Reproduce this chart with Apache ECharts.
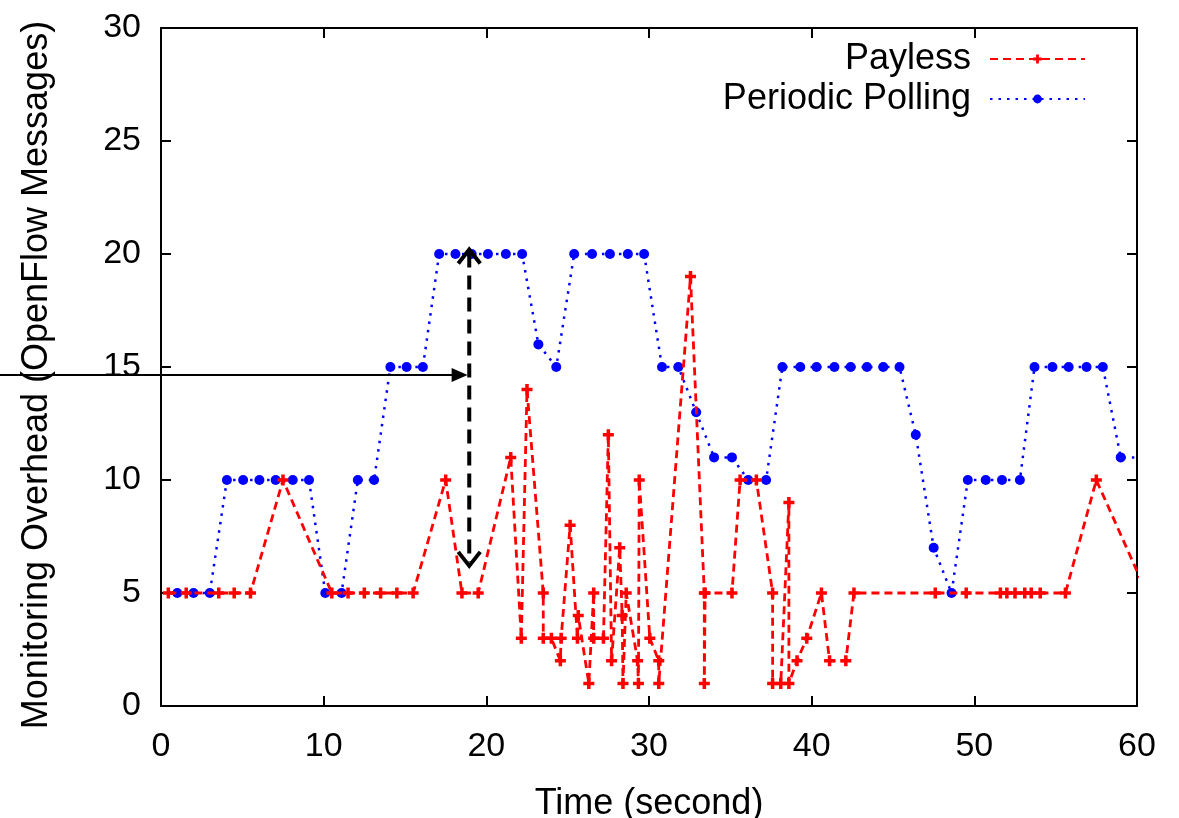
<!DOCTYPE html>
<html>
<head>
<meta charset="utf-8">
<script src="https://cdn.jsdelivr.net/npm/echarts@6/dist/echarts.min.js"></script>
<style>
html,body{margin:0;padding:0;background:#fff;}
#c{width:1179px;height:818px;}
</style>
</head>
<body>
<div id="c"></div>
<script>
// ---- data ----
const xTicks = [0, 10, 20, 30, 40, 50, 60];
const yTicks = [0, 5, 10, 15, 20, 25, 30];
const seriesNames = ['Payless', 'Periodic Polling'];

const paylessT = [0.45, 1.55, 3.55, 4.5, 5.5, 7.5, 10.5, 11.5, 12.5, 13.5, 14.5, 15.5, 17.5, 18.5, 19.5,
  21.5, 22.15, 22.5, 23.5, 23.5, 24.0, 24.55, 24.6, 25.15, 25.6, 25.65, 26.3, 26.6, 26.6, 27.2,
  27.5, 27.7, 28.2, 28.35, 28.4, 28.6, 29.3, 29.35, 29.4, 30.05, 30.6, 30.6, 32.55, 33.4, 33.4,
  33.45, 35.1, 35.6, 36.6, 37.6, 37.6, 38.1, 38.6, 38.6, 39.1, 39.7, 40.6, 41.1, 42.1, 42.6,
  47.6, 49.5, 51.6, 52.0, 52.5, 53.1, 53.5, 54.05, 55.6, 57.5, 60.6];
const paylessV = [5, 5, 5, 5, 5, 10, 5, 5, 5, 5, 5, 5, 10, 5, 5,
  11, 3, 14, 5, 3, 3, 2, 3, 8, 3, 4, 1, 5, 3, 3,
  12, 2, 7, 4, 1, 5, 2, 1, 10, 3, 2, 1, 19, 5, 1,
  5, 5, 10, 10, 5, 1, 1, 9, 1, 2, 3, 5, 2, 2, 5,
  5, 5, 5, 5, 5, 5, 5, 5, 5, 10, 5];

const pollingT = [1.0, 2.0, 3.0, 4.05, 5.05, 6.05, 7.05, 8.1, 9.1, 10.1, 11.1, 12.1, 13.1, 14.1, 15.1, 16.1,
  17.1, 18.1, 19.1, 20.1, 21.2, 22.2, 23.2, 24.3, 25.4, 26.5, 27.6, 28.7, 29.7, 30.8, 31.8, 32.9,
  34.0, 35.1, 36.1, 37.2, 38.2, 39.3, 40.3, 41.4, 42.4, 43.4, 44.4, 45.4, 46.4, 47.5, 48.6,
  49.6, 50.7, 51.7, 52.8, 53.7, 54.8, 55.8, 56.9, 57.9, 59.0, 60.05];
const pollingV = [5, 5, 5, 10, 10, 10, 10, 10, 10, 5, 5, 10, 10, 15, 15, 15,
  20, 20, 20, 20, 20, 20, 16, 15, 20, 20, 20, 20, 20, 15, 15, 13,
  11, 11, 10, 10, 15, 15, 15, 15, 15, 15, 15, 15, 12, 7, 5,
  10, 10, 10, 10, 15, 15, 15, 15, 15, 11, 11];

// annotation arrows (data space)
const hArrow = { y: 14.65, tipT: 18.85 };
const vArrow = { t: 18.95, top: 20.2, bottom: 6.2 };

// ---- chart ----
const FONT = 'Liberation Sans';
const plus = 'path://M-1.6,-5H1.6V-1.6H5V1.6H1.6V5H-1.6V1.6H-5V-1.6H-1.6Z';
const zip = (a, b) => a.map((v, i) => [v, b[i]]);

const chart = echarts.init(document.getElementById('c'), null, { renderer: 'canvas' });

function axisCommon() {
  return {
    min: 0,
    axisLine: { show: true, onZero: false, lineStyle: { color: '#000', width: 2 } },
    axisTick: { show: true, inside: true, length: 10, lineStyle: { color: '#000', width: 2 } },
    splitLine: { show: false }
  };
}

chart.setOption({
  animation: false,
  backgroundColor: '#fff',
  textStyle: { fontFamily: FONT },
  grid: { left: 161, right: 42, top: 28, bottom: 112, containLabel: false, outerBoundsMode: 'none' },
  legend: {
    data: seriesNames,
    orient: 'vertical',
    align: 'right',
    right: 88,
    top: 36,
    itemWidth: 95,
    itemHeight: 11,
    itemGap: 4,
    textStyle: { fontFamily: FONT, fontSize: 36, color: '#000', padding: [0, 14, 0, 0] }
  },
  xAxis: [
    Object.assign(axisCommon(), {
      type: 'value', max: 60, interval: 10, position: 'bottom',
      name: 'Time (second)', nameLocation: 'middle', nameGap: 80,
      nameTextStyle: { fontFamily: FONT, fontSize: 36, color: '#000' },
      axisLabel: { fontFamily: FONT, fontSize: 34, color: '#000', margin: 24,
        formatter: v => xTicks.includes(v) ? String(v) : '' }
    }),
    Object.assign(axisCommon(), {
      type: 'value', max: 60, interval: 10, position: 'top', axisLabel: { show: false }
    })
  ],
  yAxis: [
    Object.assign(axisCommon(), {
      type: 'value', max: 30, interval: 5, position: 'left',
      name: 'Monitoring Overhead (OpenFlow Messages)', nameLocation: 'middle', nameGap: 106,
      nameTextStyle: { fontFamily: FONT, fontSize: 36, color: '#000', padding: [0, 16, 0, 0] },
      axisLabel: { fontFamily: FONT, fontSize: 34, color: '#000', margin: 20,
        formatter: v => yTicks.includes(v) ? String(v) : '' }
    }),
    Object.assign(axisCommon(), {
      type: 'value', max: 30, interval: 5, position: 'right', axisLabel: { show: false }
    })
  ],
  series: [
    {
      name: seriesNames[0], type: 'line', data: zip(paylessT, paylessV),
      symbol: plus, symbolSize: 11, showAllSymbol: true, clip: true,
      itemStyle: { color: '#ff0000' },
      lineStyle: { color: '#ff0000', width: 2.8, type: [8, 5] },
      z: 3
    },
    {
      name: seriesNames[1], type: 'line', data: zip(pollingT, pollingV),
      symbol: 'circle', symbolSize: 10, showAllSymbol: true, clip: true,
      itemStyle: { color: '#0000ff' },
      lineStyle: { color: '#0000ff', width: 2.5, type: [2.5, 6] },
      z: 2
    }
  ]
});

function drawArrows() {
  const hy = chart.convertToPixel({ xAxisIndex: 0, yAxisIndex: 0 }, [0, hArrow.y]);
  const htip = chart.convertToPixel({ xAxisIndex: 0, yAxisIndex: 0 }, [hArrow.tipT, hArrow.y]);
  const vtop = chart.convertToPixel({ xAxisIndex: 0, yAxisIndex: 0 }, [vArrow.t, vArrow.top]);
  const vbot = chart.convertToPixel({ xAxisIndex: 0, yAxisIndex: 0 }, [vArrow.t, vArrow.bottom]);
  const y = hy[1], tx = htip[0];
  const vx = vtop[0];
  chart.setOption({
    graphic: [
      { type: 'line', z: 100, shape: { x1: 0, y1: y, x2: tx - 14, y2: y },
        style: { stroke: '#000', lineWidth: 2 } },
      { type: 'polygon', z: 100, shape: { points: [[tx, y], [tx - 16, y - 7], [tx - 16, y + 7]] },
        style: { fill: '#000' } },
      { type: 'line', z: 100, shape: { x1: vx, y1: vtop[1] + 4, x2: vx, y2: vbot[1] - 4 },
        style: { stroke: '#000', lineWidth: 4, lineDash: [14, 8] } },
      { type: 'polyline', z: 100, shape: { points: [[vx - 11, vtop[1] + 14], [vx, vtop[1]], [vx + 11, vtop[1] + 14]] },
        style: { stroke: '#000', lineWidth: 4, fill: null } },
      { type: 'polyline', z: 100, shape: { points: [[vx - 11, vbot[1] - 14], [vx, vbot[1]], [vx + 11, vbot[1] - 14]] },
        style: { stroke: '#000', lineWidth: 4, fill: null } }
    ]
  });
}
drawArrows();
</script>
</body>
</html>
